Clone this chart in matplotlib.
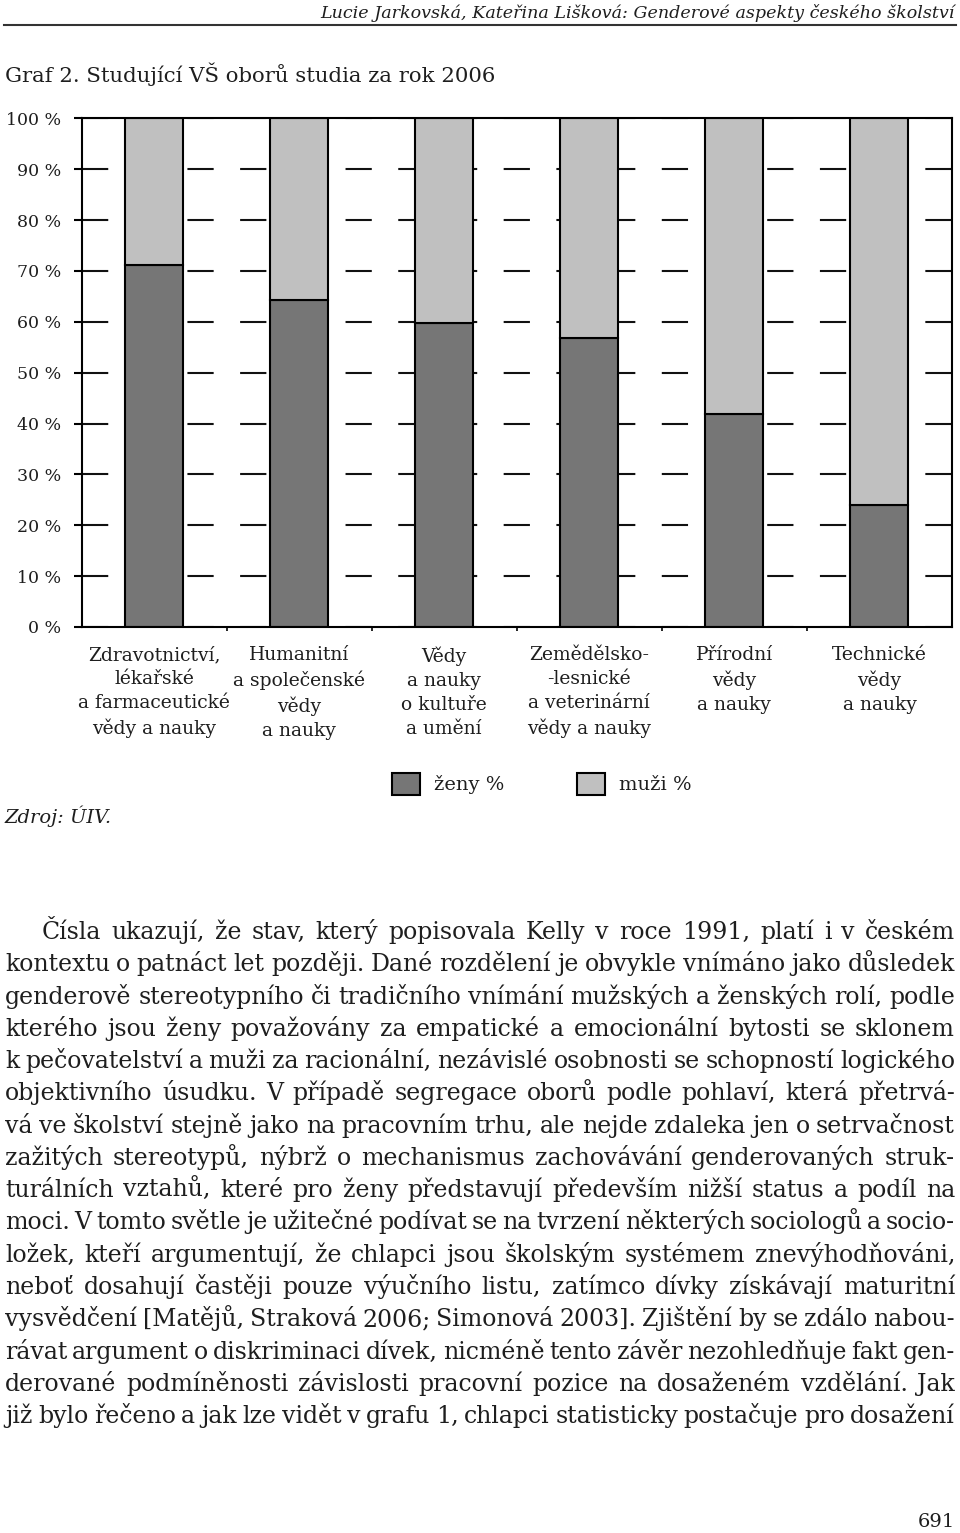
import matplotlib
matplotlib.use('Agg')
import matplotlib.pyplot as plt
from matplotlib.lines import Line2D

W, H, DPI = 960, 1533, 100

header = 'Lucie Jarkovská, Kateřina Lišková: Genderové aspekty českého školství'
title = 'Graf 2. Studující VŠ oborů studia za rok 2006'
categories = [
    'Zdravotnictví,\nlékařské\na farmaceutické\nvědy a nauky',
    'Humanitní\na společenské\nvědy\na nauky',
    'Vědy\na nauky\no kultuře\na umění',
    'Zemědělsko-\n-lesnické\na veterinární\nvědy a nauky',
    'Přírodní\nvědy\na nauky',
    'Technické\nvědy\na nauky',
]
zeny = [71.2, 64.3, 59.7, 56.9, 41.9, 23.9]
muzi = [round(100 - v, 1) for v in zeny]
series_labels = ['ženy %', 'muži %']
y_ticks = [0, 10, 20, 30, 40, 50, 60, 70, 80, 90, 100]
y_tick_labels = [f'{v} %' for v in y_ticks]
source = 'Zdroj: ÚIV.'
paragraph = [
    'Čísla ukazují, že stav, který popisovala Kelly v roce 1991, platí i v českém',
    'kontextu o patnáct let později. Dané rozdělení je obvykle vnímáno jako důsledek',
    'genderově stereotypního či tradičního vnímání mužských a ženských rolí, podle',
    'kterého jsou ženy považovány za empatické a emocionální bytosti se sklonem',
    'k pečovatelství a muži za racionální, nezávislé osobnosti se schopností logického',
    'objektivního úsudku. V případě segregace oborů podle pohlaví, která přetrvá-',
    'vá ve školství stejně jako na pracovním trhu, ale nejde zdaleka jen o setrvačnost',
    'zažitých stereotypů, nýbrž o mechanismus zachovávání genderovaných struk-',
    'turálních vztahů, které pro ženy představují především nižší status a podíl na',
    'moci. V tomto světle je užitečné podívat se na tvrzení některých sociologů a socio-',
    'ložek, kteří argumentují, že chlapci jsou školským systémem znevýhodňováni,',
    'neboť dosahují častěji pouze výučního listu, zatímco dívky získávají maturitní',
    'vysvědčení [Matějů, Straková 2006; Simonová 2003]. Zjištění by se zdálo nabou-',
    'rávat argument o diskriminaci dívek, nicméně tento závěr nezohledňuje fakt gen-',
    'derované podmíněnosti závislosti pracovní pozice na dosaženém vzdělání. Jak',
    'již bylo řečeno a jak lze vidět v grafu 1, chlapci statisticky postačuje pro dosažení',
]
page_number = '691'

plt.rcParams['font.family'] = ['DejaVu Serif']
plt.rcParams['text.color'] = '#1e1e1e'

fig = plt.figure(figsize=(W / DPI, H / DPI), dpi=DPI)
renderer = fig.canvas.get_renderer()


def fx(x):
    return x / W


def fy(y):
    return 1 - y / H


def width_of(s, size, **kw):
    t = fig.text(0, 0, s, fontsize=size, **kw)
    w = t.get_window_extent(renderer).width
    t.remove()
    return w


def fit_size(s, target, size=14, **kw):
    return size * target / width_of(s, size, **kw)


# page header and rule
fig.text(fx(955), fy(18), header, ha='right', va='baseline', style='italic',
         fontsize=fit_size(header, 636, style='italic'))
fig.add_artist(Line2D([fx(4), fx(956)], [fy(24.5), fy(24.5)], color='#333333', lw=1.5))
fig.text(fx(5), fy(82), title, ha='left', va='baseline',
         fontsize=fit_size(title, 494))

# chart
ax = fig.add_axes([fx(81.5), fy(627), (952 - 81.5) / W, (627 - 118.3) / H])
x = list(range(len(categories)))
b1 = ax.bar(x, zeny, width=0.4, color='#767676', edgecolor='black', lw=1.5, label=series_labels[0])
b2 = ax.bar(x, muzi, width=0.4, bottom=zeny, color='#c0c0c0', edgecolor='black', lw=1.5,
            label=series_labels[1])
ax.set_xlim(-0.5, len(categories) - 0.5)
ax.set_ylim(0, 100)
ax.set_yticks(y_ticks)
ax.set_yticklabels(y_tick_labels, fontsize=12.5)
ax.set_xticks(x)
ax.set_xticklabels(categories, fontsize=13.5, linespacing=1.42)
ax.set_xticks([i + 0.5 for i in x[:-1]], minor=True)
ax.tick_params(axis='y', direction='out', length=5.8, width=1.5, pad=9, colors='black',
               labelcolor='#1e1e1e')
ax.tick_params(axis='x', which='major', length=0, pad=14, labelcolor='#1e1e1e')
ax.tick_params(axis='x', which='minor', direction='out', length=3, width=1.2, colors='black')
ax.set_axisbelow(True)
ax.yaxis.grid(True, color='#111111', lw=1.5, linestyle=(0, (12.6, 12.7)))
for sp in ax.spines.values():
    sp.set_linewidth(1.5)
    sp.set_color('black')

fs_leg = 14
px_leg = fs_leg * DPI / 72
ax.legend(handles=[b1, b2], labels=series_labels, ncol=2, loc='center left',
          bbox_to_anchor=(fx(392), fy(784)), bbox_transform=fig.transFigure,
          frameon=False, fontsize=fs_leg, borderpad=0, borderaxespad=0,
          handlelength=28 / px_leg, handleheight=28 / px_leg,
          handletextpad=14 / px_leg, columnspacing=73 / px_leg)

fig.text(fx(5), fy(823), source, ha='left', va='baseline', style='italic', fontsize=14)

# justified paragraph: largest size where every line still fits with a small word gap
left, right = 5, 955
indent = 42
base_y, step = 939, 32.27
size = 18
ratio = 0
for i, line in enumerate(paragraph):
    words = line.split(' ')
    ws = sum(width_of(w, size) for w in words)
    start = indent if i == 0 else left
    need = ws + (len(words) - 1) * 0.2 * size * DPI / 72
    ratio = max(ratio, need / (right - start))
size = size / ratio

for i, line in enumerate(paragraph):
    words = line.split(' ')
    widths = [width_of(w, size) for w in words]
    start = indent if i == 0 else left
    gap = (right - start - sum(widths)) / (len(words) - 1)
    xpos = start
    yb = base_y + i * step
    for w, wd in zip(words, widths):
        fig.text(fx(xpos), fy(yb), w, ha='left', va='baseline', fontsize=size)
        xpos += wd + gap

fig.text(fx(955), fy(1527), page_number, ha='right', va='baseline', fontsize=14)

fig.savefig('out.png', dpi=DPI)
